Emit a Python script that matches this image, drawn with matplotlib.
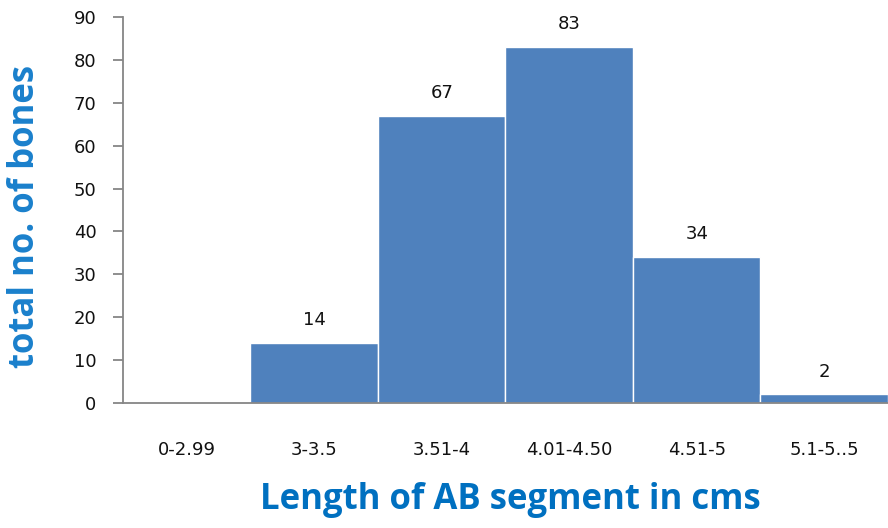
import matplotlib.pyplot as plt
import numpy as np

# bone counts by AB segment length
ranges = ['0-2.99', '3-3.5', '3.51-4', '4.01-4.50', '4.51-5', '5.1-5..5']
counts = [0, 14, 67, 83, 34, 2]
yticks = list(range(0, 100, 10))

fig = plt.figure(figsize=(8.88, 5.28), dpi=100)
ax = fig.add_axes([0.1385, 0.2367, 0.8615, 0.7311])

x = np.arange(len(ranges))
bars = ax.bar(x, counts, width=1.0, color='#4F81BD', edgecolor='white', linewidth=1)

for xi, c in zip(x, counts):
    if c > 0:
        ax.annotate(str(c), (xi, c), xytext=(0, 10), textcoords='offset points',
                    ha='center', va='bottom', fontsize=13, color='#111111')

ax.set_xlim(-0.5, len(ranges) - 0.5)
ax.set_ylim(0, 90)
ax.set_yticks(yticks)
ax.set_xticks(x)
ax.set_xticklabels(ranges)

for s in ['top', 'right']:
    ax.spines[s].set_visible(False)
for s in ['left', 'bottom']:
    ax.spines[s].set_color('#868686')
    ax.spines[s].set_linewidth(1.3)

ax.tick_params(axis='y', length=7, width=1.3, color='#868686', labelsize=13,
               pad=12, labelcolor='#111111')
ax.tick_params(axis='x', length=0, labelsize=13, pad=27, labelcolor='#111111')

ax.set_xlabel('Length of AB segment in cms', fontsize=25, fontweight='bold',
              color='#0070C0', family=['Open Sans', 'DejaVu Sans'])
ax.set_ylabel('total no. of bones', fontsize=25, fontweight='bold',
              color='#1A80CC', family=['Open Sans', 'DejaVu Sans'])
ax.xaxis.set_label_coords(0.506, -0.205)
ax.yaxis.set_label_coords(-0.104, 0.484)

fig.savefig('out.png', dpi=100)
